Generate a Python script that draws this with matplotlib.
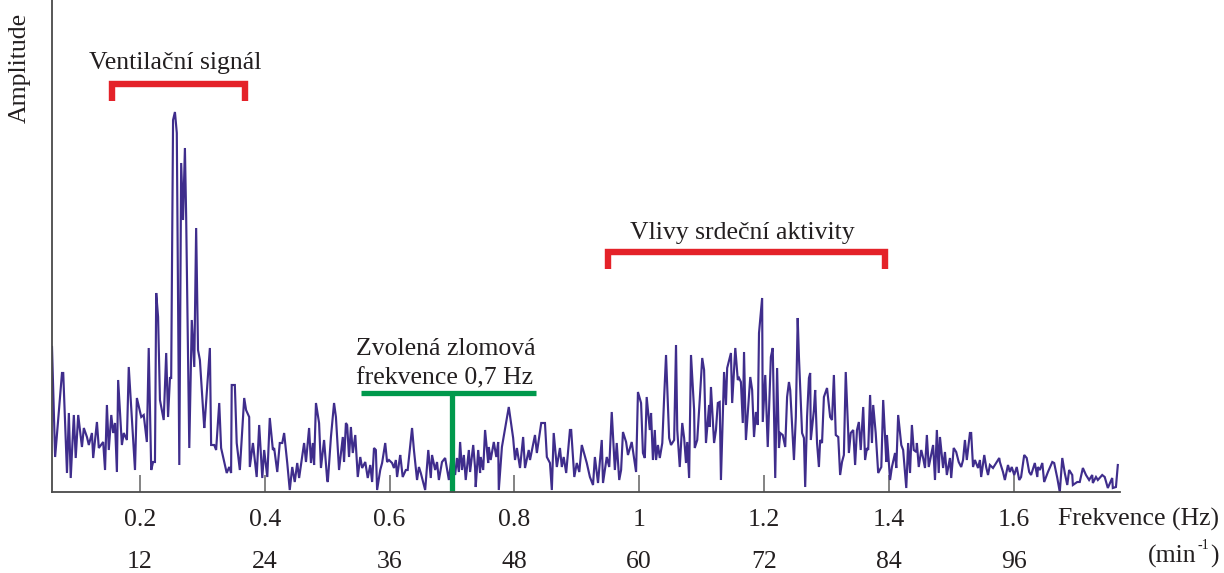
import matplotlib
matplotlib.use("Agg")
import matplotlib.pyplot as plt

# Amplitude spectrum of the impedance signal (arbitrary units)
spectrum_freq = [
    0.059, 0.064, 0.075, 0.077, 0.083, 0.086, 0.089, 0.094, 0.097, 0.101,
    0.107, 0.110, 0.115, 0.118, 0.123, 0.125, 0.131, 0.134, 0.141, 0.144,
    0.147, 0.150, 0.154, 0.157, 0.160, 0.163, 0.165, 0.171, 0.174, 0.179,
    0.182, 0.192, 0.195, 0.202, 0.206, 0.211, 0.214, 0.218, 0.221, 0.224,
    0.226, 0.229, 0.232, 0.238, 0.242, 0.245, 0.248, 0.250, 0.253, 0.256,
    0.259, 0.263, 0.266, 0.269, 0.272, 0.274, 0.279, 0.283, 0.287, 0.290,
    0.293, 0.296, 0.303, 0.304, 0.312, 0.314, 0.319, 0.322, 0.327, 0.330,
    0.339, 0.343, 0.346, 0.347, 0.352, 0.355, 0.360, 0.367, 0.370,
    0.375, 0.376, 0.381, 0.387, 0.391, 0.396, 0.399, 0.404, 0.408, 0.413,
    0.415, 0.420, 0.424, 0.428, 0.431, 0.436, 0.440, 0.444, 0.448, 0.452,
    0.455, 0.458, 0.463, 0.466, 0.471, 0.474, 0.477, 0.479, 0.482, 0.487,
    0.490, 0.495, 0.500, 0.501, 0.506, 0.511, 0.514, 0.519, 0.525, 0.527,
    0.530,
    0.532, 0.535, 0.538, 0.541, 0.545, 0.549, 0.553, 0.556, 0.561, 0.565,
    0.569, 0.572, 0.575, 0.578, 0.580, 0.585, 0.588, 0.593, 0.596, 0.599,
    0.604, 0.607, 0.610, 0.612, 0.617, 0.618, 0.621, 0.626, 0.629, 0.636,
    0.639, 0.644, 0.647, 0.650, 0.657, 0.662, 0.666, 0.668, 0.673, 0.676,
    0.679, 0.684,
    0.689, 0.695, 0.700, 0.705, 0.708, 0.711, 0.713, 0.716, 0.719, 0.722,
    0.727, 0.729, 0.734, 0.737, 0.738, 0.742, 0.745, 0.746, 0.750, 0.753,
    0.758, 0.759, 0.762, 0.767, 0.771, 0.774, 0.775, 0.780, 0.791, 0.798,
    0.801, 0.804, 0.809, 0.814, 0.817, 0.823, 0.825, 0.833, 0.836, 0.843,
    0.846, 0.849, 0.852, 0.857, 0.860, 0.863, 0.868, 0.873, 0.876, 0.879,
    0.883, 0.889, 0.891, 0.896, 0.900, 0.904, 0.908, 0.916, 0.921, 0.926,
    0.929, 0.934, 0.940, 0.942, 0.948, 0.952, 0.956, 0.961, 0.964, 0.968,
    0.971, 0.974, 0.979, 0.982, 0.988, 0.995, 0.998,
    1.003, 1.006, 1.009, 1.012, 1.017, 1.019, 1.022, 1.025, 1.027, 1.030,
    1.033, 1.037, 1.040, 1.043, 1.048, 1.051, 1.056, 1.059, 1.061, 1.065,
    1.069, 1.072, 1.075, 1.077, 1.080, 1.083, 1.088, 1.089, 1.093, 1.097,
    1.101, 1.104, 1.107, 1.112, 1.113, 1.115, 1.120, 1.123, 1.126, 1.129,
    1.131, 1.136, 1.139, 1.141, 1.147, 1.149, 1.154, 1.158,
    1.160, 1.163, 1.166, 1.168, 1.171, 1.178, 1.181, 1.184, 1.187, 1.190,
    1.192, 1.197, 1.198, 1.202, 1.206, 1.208, 1.211, 1.214, 1.218, 1.221,
    1.224, 1.226, 1.230, 1.234, 1.237, 1.240, 1.242, 1.248, 1.251, 1.254,
    1.256, 1.261, 1.264, 1.266, 1.269, 1.272, 1.274, 1.275, 1.280, 1.282,
    1.285, 1.288, 1.290, 1.293, 1.296, 1.301, 1.306, 1.309, 1.312,
    1.315, 1.319, 1.322, 1.325, 1.328, 1.331, 1.335, 1.336, 1.339, 1.343,
    1.346, 1.349, 1.352, 1.355, 1.359, 1.362, 1.365, 1.367, 1.370, 1.373,
    1.375, 1.379, 1.383, 1.388, 1.391, 1.396, 1.397, 1.402, 1.405, 1.410,
    1.412, 1.415, 1.420, 1.423, 1.428, 1.431, 1.434, 1.437, 1.440, 1.444,
    1.445, 1.448, 1.452, 1.455, 1.458, 1.461, 1.464, 1.471,
    1.474, 1.477, 1.480, 1.482, 1.487, 1.490, 1.493, 1.498, 1.500, 1.504,
    1.508, 1.512, 1.516, 1.519, 1.522, 1.525, 1.530, 1.532, 1.535, 1.538,
    1.543, 1.546, 1.548, 1.553, 1.556, 1.559, 1.562, 1.567, 1.570, 1.577,
    1.578, 1.583, 1.586, 1.591, 1.594, 1.597, 1.601, 1.605, 1.609, 1.612,
    1.617, 1.621, 1.625, 1.628,
    1.634, 1.638, 1.639, 1.642, 1.646, 1.649, 1.655, 1.662, 1.665, 1.670,
    1.674, 1.678, 1.682, 1.686, 1.689, 1.694, 1.695, 1.702, 1.706, 1.711,
    1.716, 1.721, 1.726, 1.727, 1.732, 1.735, 1.742, 1.746, 1.751, 1.758,
    1.759, 1.764, 1.767,
]

spectrum_amp = [
    145, 35, 119, 119, 19, 79, 14, 77, 34, 77,
    45, 64, 55, 47, 59, 34, 70, 44, 50, 22,
    87, 42, 77, 59, 69, 20, 112, 47, 59, 52,
    125, 22, 94, 75, 77, 50, 144, 22, 30, 30,
    199, 175, 92, 72, 139, 75, 114, 114, 372, 380,
    359, 27, 329, 272, 344, 275, 44, 172, 125, 264,
    142, 132, 64, 72, 144, 47, 47, 42, 89, 44,
    19, 25, 19, 107, 107, 49, 22, 94, 82,
    75, 25, 49, 15, 67, 14, 42, 15, 74, 42,
    44, 20, 49, 49, 59, 29, 2, 25, 10, 29,
    14, 27, 49, 30, 64, 29, 49, 27, 89, 69,
    24, 52, 12, 10, 55, 89, 75, 22, 55, 30,
    69,
    67, 35, 65, 39, 57, 15, 35, 24, 30, 14,
    27, 10, 44, 42, 2, 22, 29, 49, 30, 32,
    29, 24, 32, 15, 37, 32, 15, 22, 22, 64,
    42, 12, 25, 19, 2, 42, 14, 37, 22, 30,
    12, 30,
    34, 12, 39, 17, 34, 20, 50, 22, 37, 12,
    42, 20, 47, 24, 5, 42, 19, 35, 22, 62,
    29, 45, 32, 50, 35, 50, 2, 45, 85, 54,
    32, 44, 24, 55, 24, 42, 32, 57, 39, 69,
    69, 69, 35, 29, 2, 59, 25, 44, 25, 35,
    19, 62, 62, 15, 29, 20, 47, 29, 15, 7,
    35, 9, 52, 9, 35, 25, 80, 22, 49, 12,
    22, 60, 50, 37, 50, 20, 100,
    89, 39, 34, 95, 62, 79, 32, 62, 32, 47,
    34, 49, 95, 137, 54, 47, 52, 147, 62, 25,
    69, 54, 29, 50, 14, 137, 82, 44, 52, 92,
    134, 122, 49, 87, 65, 105, 49, 62, 89, 90,
    12, 120, 87, 124, 139, 89, 144, 112,
    114, 110, 69, 140, 52, 115, 102, 55, 80, 67,
    159, 194, 70, 117, 45, 80, 135, 144, 14, 124,
    44, 59, 57, 45, 95, 110, 102, 32, 75, 174,
    135, 59, 54, 5, 75, 114, 119, 52, 82, 102,
    49, 25, 52, 49, 95, 104, 75, 72, 117,
    57, 55, 17, 30, 37, 120, 59, 39, 59, 62,
    27, 62, 70, 42, 85, 32, 44, 42, 97, 49,
    87, 59, 19, 25, 92, 30, 57, 12, 25, 39,
    24, 77, 47, 42, 4, 49, 19, 67, 42, 40,
    49, 25, 42, 34, 24, 57, 25, 47,
    12, 62, 19, 55, 24, 40, 17, 34, 14, 44,
    40, 30, 25, 32, 52, 32, 59, 59, 25, 32,
    24, 32, 15, 37, 25, 17, 27, 24, 27, 34,
    30, 20, 12, 27, 20, 25, 17, 25, 12, 15,
    37, 34, 20, 17,
    29, 15, 25, 22, 29, 10, 20, 30, 29, 14,
    0, 34, 19, 7, 22, 17, 7, 10, 10, 24,
    17, 12, 17, 9, 15, 12, 17, 15, 4, 14,
    4, 5, 27,
]

tick_hz = [0.2, 0.4, 0.6, 0.8, 1.0, 1.2, 1.4, 1.6]
tick_hz_labels = ["0.2", "0.4", "0.6", "0.8", "1", "1.2", "1.4", "1.6"]
tick_bpm_labels = ["12", "24", "36", "48", "60", "72", "84", "96"]

cutoff_hz = 0.7
ventilation_band = (0.155, 0.369)
cardiac_band = (0.950, 1.394)

W, H = 1224, 573
TEXT = "#231f20"
LINE = "#3f2d8c"
RED = "#e42229"
GREEN = "#00994c"
FONT = "Liberation Serif"
FS = 18.5

plt.rcParams["font.family"] = FONT

fig = plt.figure(figsize=(W / 100, H / 100), dpi=100)
ax = fig.add_axes([52 / W, 1 - 492 / H, (1120 - 52) / W, 492 / H])


def fxy(px, py):
    """Pixel position -> figure fraction."""
    return px / W, 1 - py / H


ax.plot(spectrum_freq, spectrum_amp, color=LINE, lw=1.55, solid_joinstyle="miter")

ax.set_xlim(0.059, 1.7705)
ax.set_ylim(0, 492)

for side in ("top", "right"):
    ax.spines[side].set_visible(False)
for side in ("left", "bottom"):
    ax.spines[side].set_color("#4a4a4a")
    ax.spines[side].set_linewidth(1.3)

ax.set_yticks([])
ax.set_xticks(tick_hz)
ax.tick_params(axis="x", direction="in", length=12, width=1.3, color="#7a7a7a",
               labelbottom=False)

xt = ax.get_xaxis_transform()
for f, lab, bpm in zip(tick_hz, tick_hz_labels, tick_bpm_labels):
    ax.text(f, -(520 - 492) / 492, lab, transform=xt, ha="center", va="center",
            fontsize=FS, color=TEXT, clip_on=False)
    ax.text(f, -(562 - 492) / 492, bpm, transform=xt, ha="center", va="center",
            fontsize=FS, color=TEXT, clip_on=False)

fig.text(*fxy(1058, 526), "Frekvence (Hz)", ha="left", va="baseline",
         fontsize=FS, color=TEXT)

# "(min^-1)" built from pieces so the exponent keeps a plain hyphen
renderer = fig.canvas.get_renderer()
t_open = fig.text(*fxy(1148, 563), "(min", ha="left", va="baseline",
                  fontsize=FS, color=TEXT)
x_after = t_open.get_window_extent(renderer).x1
t_sup = fig.text(x_after / W + 1 / W, 1 - 549 / H, "-1", ha="left",
                 va="baseline", fontsize=FS * 0.55, color=TEXT)
x_after = t_sup.get_window_extent(renderer).x1
fig.text(x_after / W + 1 / W, 1 - 563 / H, ")", ha="left", va="baseline",
         fontsize=FS, color=TEXT)

fig.text(*fxy(20, 68), "Amplitude", rotation=90, ha="center", va="center",
         fontsize=FS, color=TEXT)


def bracket(x0, x1, top, leg, label, label_y, label_x=None):
    ax.plot([x0, x0, x1, x1], [top - leg, top, top, top - leg], color=RED,
            lw=4.6, solid_joinstyle="miter", solid_capstyle="butt", clip_on=False)
    cx = (x0 + x1) / 2 if label_x is None else label_x
    ax.text(cx, label_y, label, ha="center", va="baseline",
            fontsize=FS, color=TEXT, clip_on=False)


bracket(*ventilation_band, 408, 17, "Ventilační signál", 423, label_x=0.256)
bracket(*cardiac_band, 240, 17, "Vlivy srdeční aktivity", 253, label_x=1.166)

# Cut-off frequency marker
ax.plot([0.554, 0.835], [99, 99], color=GREEN, lw=3.8, solid_capstyle="butt",
        clip_on=False)
ax.plot([cutoff_hz, cutoff_hz], [0, 99], color=GREEN, lw=3.8,
        solid_capstyle="butt", clip_on=False)
ax.text(0.546, 137, "Zvolená zlomová", ha="left", va="baseline",
        fontsize=FS, color=TEXT)
ax.text(0.546, 108, "frekvence 0,7 Hz", ha="left", va="baseline",
        fontsize=FS, color=TEXT)

fig.savefig("out.png", dpi=100)
